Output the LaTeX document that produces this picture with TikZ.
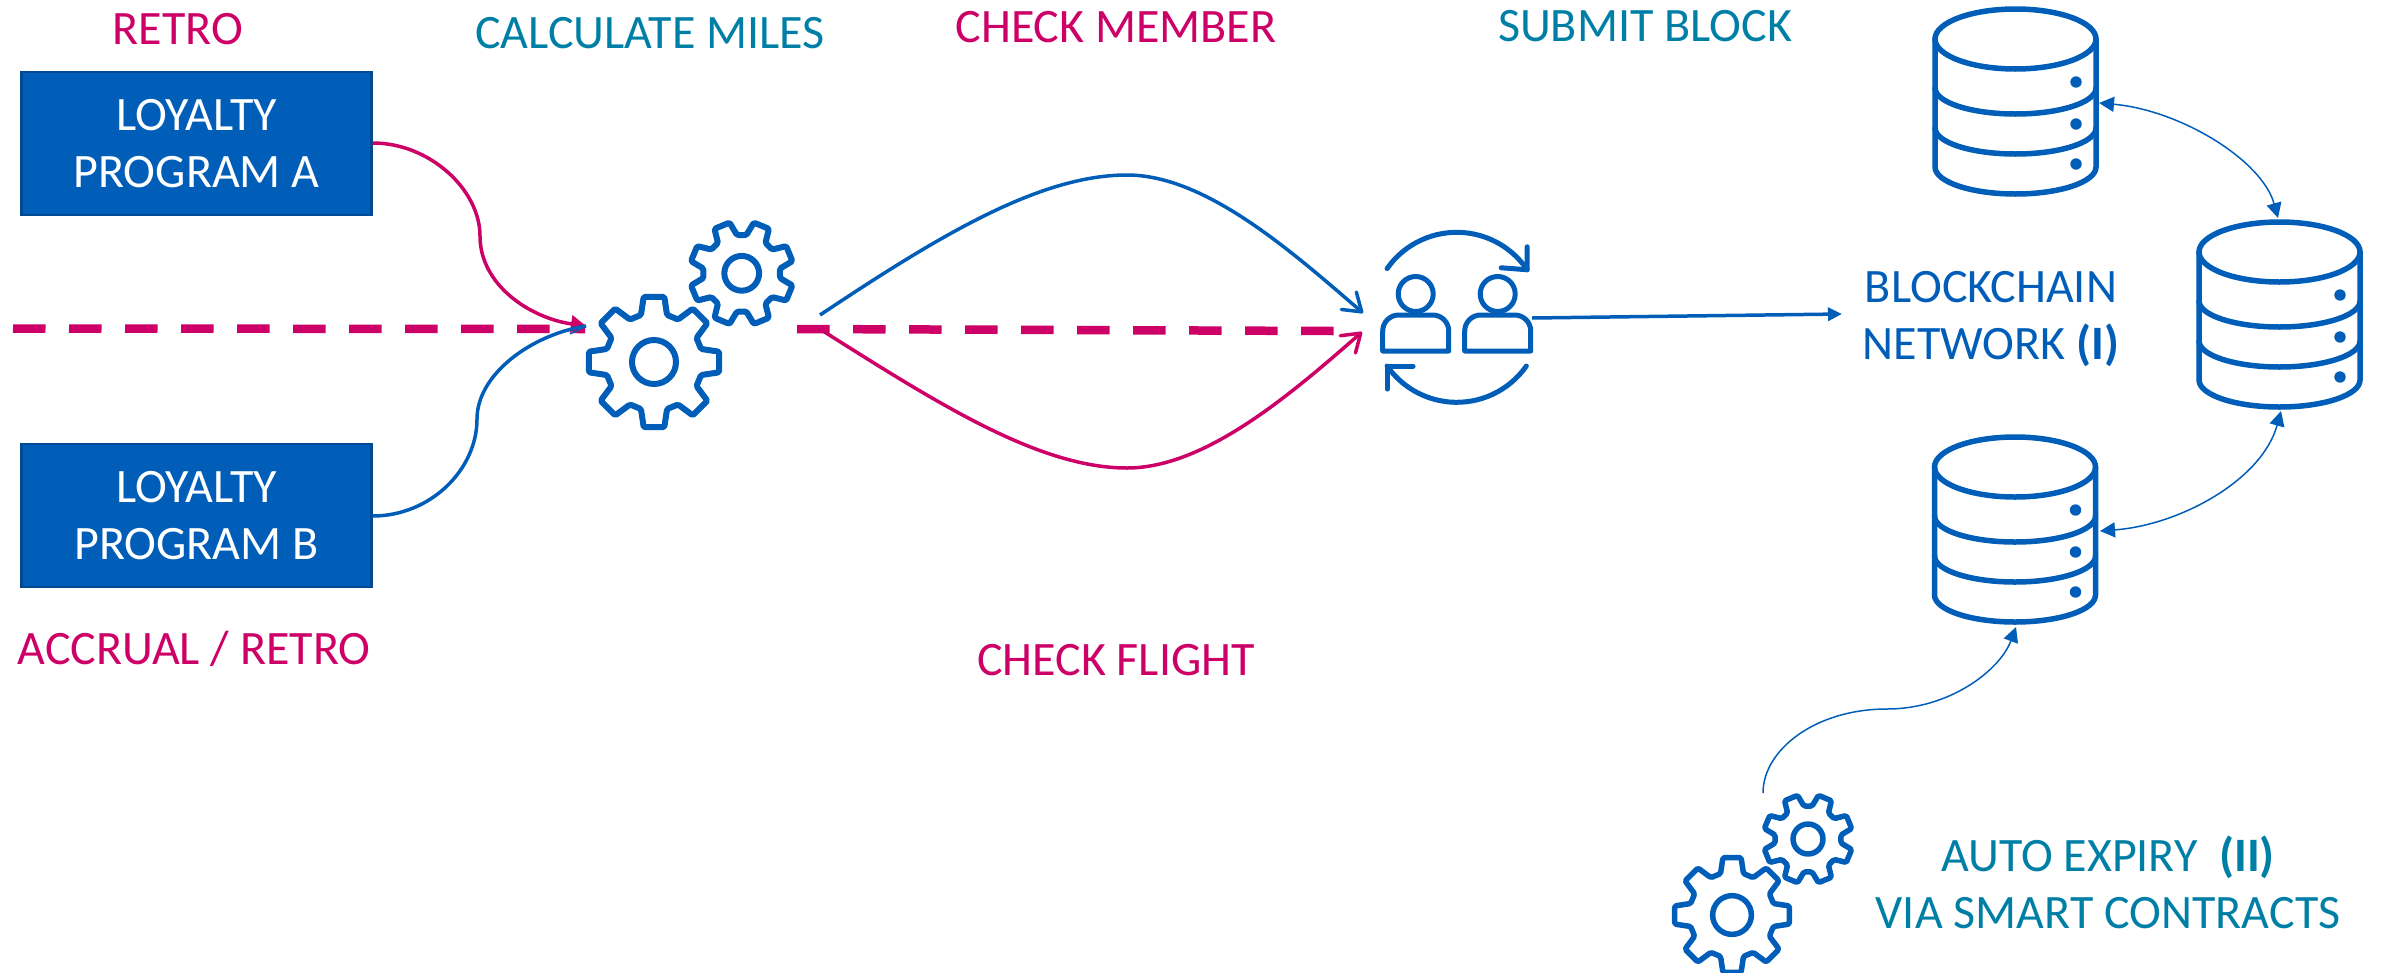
\documentclass[tikz,border=0pt]{standalone}
\usepackage{fontspec}
\setmainfont{Carlito}
\usetikzlibrary{arrows.meta,calc}
\definecolor{iconblue}{HTML}{005EB8}
\definecolor{boxedge}{HTML}{004A94}
\definecolor{pinkred}{HTML}{CC0066}
\definecolor{tealblue}{HTML}{007FA6}
\tikzset{
  iconline/.style={draw=iconblue,line width=#1,line join=round,line cap=round},
  iconline/.default=5.5pt,
  iconbox/.style={draw=none,inner sep=0pt,outer sep=0pt},
  progbox/.style={draw=boxedge,line width=2.5pt,fill=iconblue,text=white,minimum width=350pt,minimum height=143pt,align=center,inner sep=0pt},
  lbl/.style={inner sep=0pt,align=center},
  pinklbl/.style={lbl,text=pinkred},
  teallbl/.style={lbl,text=tealblue},
  bluelbl/.style={lbl,text=iconblue},
  barbhead/.tip={Straight Barb[length=17pt,width=23pt,line width=3.5pt,round]},
  curveblue/.style={draw=iconblue,line width=3.5pt,-{barbhead}},
  curvepink/.style={draw=pinkred,line width=3.5pt,-{barbhead}},
  thinarrow/.style={draw=iconblue,line width=1.5pt},
  solidhead/.tip={Triangle[length=15pt,width=15pt]},
  dashpink/.style={draw=pinkred,line width=8.5pt,dash pattern=on 32.5pt off 23.5pt}
}
\newcommand\gearicon[6]{% name,x,y,scale,rotation,linewidth
  \node[iconbox,minimum size=#4*132pt] (#1) at (#2,#3) {};
  \begin{scope}[shift={(#2,#3)},scale=#4]
    \draw[iconline=#6pt,rounded corners=1.5pt] ({#5+15.5}:48.8)
      \foreach \k in {1,...,7}{
        -- ({#5+45*\k-15.5}:48.8) -- ({#5+45*\k-9}:66) -- ({#5+45*\k+9}:66) -- ({#5+45*\k+15.5}:48.8)
      }
      -- ({#5-15.5}:48.8) -- ({#5-9}:66) -- ({#5+9}:66) -- cycle;
    \draw[iconline=#6pt] (0,0) circle [radius=22];
  \end{scope}
}
\newcommand\dbicon[3]{% name,cx,cy of the top ellipse
  \node[iconbox,minimum width=166pt,minimum height=190pt] (#1) at (#2,#3+65) {};
  \begin{scope}[shift={(#2,#3)}]
    \draw[iconline] (0,0) ellipse [x radius=80.5pt,y radius=30pt];
    \draw[iconline] (-80.5,0) -- (-80.5,128) arc [start angle=180,end angle=360,x radius=80.5pt,y radius=27pt] -- (80.5,0);
    \draw[iconline] (-80.5,49) arc [start angle=180,end angle=360,x radius=80.5pt,y radius=26pt];
    \draw[iconline] (-80.5,89) arc [start angle=180,end angle=360,x radius=80.5pt,y radius=26pt];
    \fill[iconblue] (60.5,43) circle [radius=5.7];
    \fill[iconblue] (60.5,85) circle [radius=5.7];
    \fill[iconblue] (60.5,125) circle [radius=5.7];
  \end{scope}
}
\newcommand\personicon[2]{% body centre
  \begin{scope}[shift={(#1,#2)}]
    \draw[iconline=5pt] (0,-39) circle [radius=17.5];
    \draw[iconline=5pt] (-33,18) -- (-33,-2) arc [start angle=180,end angle=90,radius=16pt] -- (17,-18) arc [start angle=90,end angle=0,radius=16pt] -- (33,18) -- cycle;
  \end{scope}
}
\begin{document}
\begin{tikzpicture}[x=1pt,y=-1pt,font=\fontsize{48}{57}\selectfont]
\useasboundingbox (0,0) rectangle (2389,972);
% boxes
\node[progbox] (progA) at (196.5,143.5) {LOYALTY\\PROGRAM A};
\node[progbox] (progB) at (196.5,515.5) {LOYALTY\\PROGRAM B};
% labels
\node[pinklbl] (retro) at (178,29) {RETRO};
\node[teallbl] (calc) at (650,33) {CALCULATE MILES};
\node[pinklbl] (member) at (1116,27) {CHECK MEMBER};
\node[teallbl] (submit) at (1645,26) {SUBMIT BLOCK};
\node[pinklbl] (accrual) at (194,649) {ACCRUAL / RETRO};
\node[pinklbl] (flight) at (1116,660) {CHECK FLIGHT};
\node[bluelbl] (chain) at (1991,319) {BLOCKCHAIN\\NETWORK \textbf{(I)}};
\node[teallbl] (expiry) at (2108,882) {AUTO EXPIRY\ \ \textbf{(II)}\\VIA SMART CONTRACTS};
% icons
\gearicon{gearBig}{654}{362}{1}{0}{6}
\gearicon{gearSmall}{741.7}{273.3}{0.79}{22.5}{6}
\gearicon{gearBigB}{1732}{915}{0.88}{0}{5.5}
\gearicon{gearSmallB}{1808}{839}{0.68}{22.5}{5.5}
\dbicon{dbTop}{2015.5}{39}
\dbicon{dbRight}{2279.5}{252}
\dbicon{dbLow}{2015}{467}
\node[iconbox,minimum width=172pt,minimum height=172pt] (peers) at (1456.7,317.3) {};
\personicon{1415.7}{333}
\personicon{1497.7}{333}
\coordinate (arcTopA) at ($(peers.center)+(145:85pt)$);
\coordinate (arcLowA) at ($(peers.center)+(-35:85pt)$);
\draw[iconline=5pt] (arcTopA) arc [start angle=145,end angle=34,radius=85pt] coordinate (arcTopB);
\draw[iconline=5pt] ($(arcTopB)+(0,-23)$) -- (arcTopB) -- ($(arcTopB)+(-26,-2)$);
\draw[iconline=5pt] (arcLowA) arc [start angle=-35,end angle=-145,radius=85pt] coordinate (arcLowB);
\draw[iconline=5pt] ($(arcLowB)+(0,23)$) -- (arcLowB) -- ($(arcLowB)+(26,0)$);
% connector ends
\coordinate (dashL) at (13,328.5);
\coordinate (dashLend) at (585,329);
\coordinate (dashR) at (797,329);
\coordinate (dashRend) at (1334,331);
\coordinate (gearIn) at (586,326);
\coordinate (gearTick) at (570,334);
\coordinate (peerTopIn) at (1363,313);
\coordinate (peerLowIn) at (1362,332);
\coordinate (gearOutTop) at (820,315);
\coordinate (gearOutLow) at (823,331);
\coordinate (peerOut) at (1532,318);
\coordinate (chainIn) at (1842,314);
\coordinate (dbTopR) at (2099,103);
\coordinate (dbRightT) at (2278,218);
\coordinate (dbLowR) at (2100,531);
\coordinate (dbRightB) at (2281,411);
\coordinate (dbLowB) at (2016,627);
\coordinate (gearOutB) at (1763,793);
% dashed line
\draw[dashpink] (dashL) -- (dashLend);
\draw[dashpink] (dashR) -- (dashRend);
% connectors
\draw[draw=pinkred,line width=3.5pt,-{Triangle[length=15pt,width=17pt]}] (progA.east |- 0,143) .. controls (430,143) and (480,190) .. (480,236) .. controls (480,285) and (530,318) .. (gearIn);
\draw[draw=iconblue,line width=3.5pt] (progB.east |- 0,516) .. controls (430,516) and (477,470) .. (477,419) .. controls (477,375) and (530,335) .. (gearIn);
\draw[draw=iconblue,line width=1.5pt] (gearIn) -- (gearTick);
\draw[curveblue] (gearOutTop) .. controls (940,235) and (1040,175) .. (1127,175) .. controls (1205,175) and (1290,250) .. (peerTopIn);
\draw[curvepink] (gearOutLow) .. controls (940,405) and (1040,468) .. (1127,468) .. controls (1205,468) and (1290,395) .. (peerLowIn);
\draw[draw=iconblue,line width=3.5pt,-{Triangle[length=14pt,width=13pt]}] (peerOut) -- (chainIn);
\draw[thinarrow,{solidhead}-{solidhead}] (dbTopR) .. controls (2180,110) and (2262,160) .. (dbRightT);
\draw[thinarrow,{solidhead}-{solidhead}] (dbLowR) .. controls (2180,525) and (2262,480) .. (dbRightB);
\draw[thinarrow,-{solidhead}] (gearOutB) .. controls (1763,750) and (1815,709) .. (1887,709) .. controls (1950,709) and (2000,670) .. (dbLowB);
\end{tikzpicture}
\end{document}
